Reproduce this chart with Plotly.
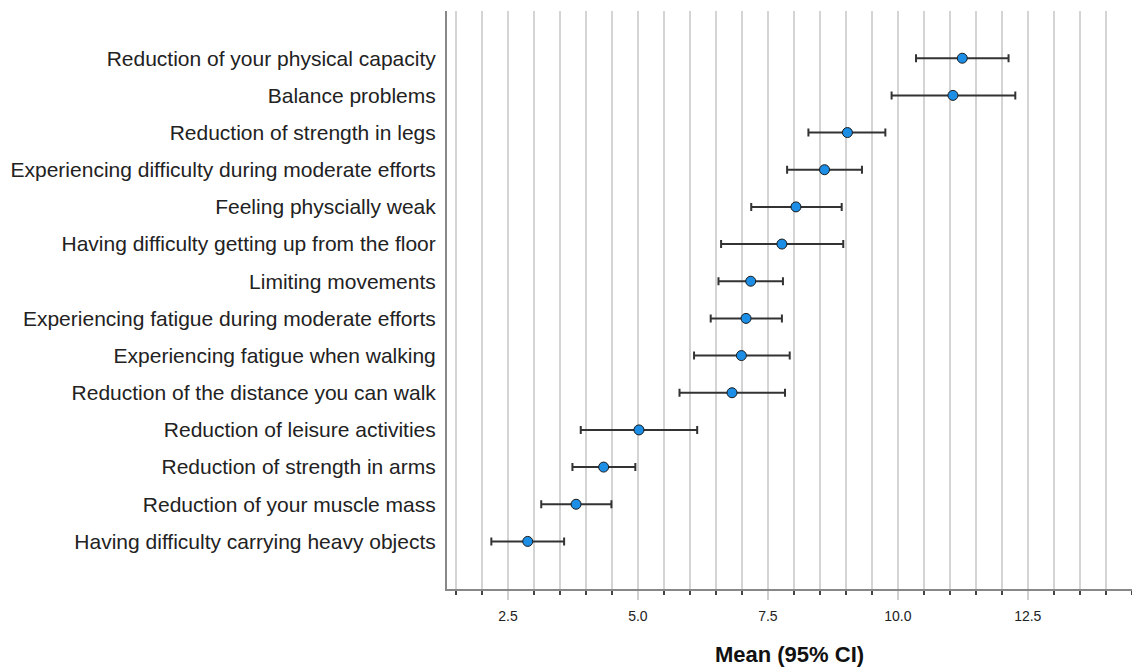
import plotly.graph_objects as go

categories = [
    "Reduction of your physical capacity",
    "Balance problems",
    "Reduction of strength in legs",
    "Experiencing difficulty during moderate efforts",
    "Feeling physcially weak",
    "Having difficulty getting up from the floor",
    "Limiting movements",
    "Experiencing fatigue during moderate efforts",
    "Experiencing fatigue when walking",
    "Reduction of the distance you can walk",
    "Reduction of leisure activities",
    "Reduction of strength in arms",
    "Reduction of your muscle mass",
    "Having difficulty carrying heavy objects",
]
means = [11.24, 11.06, 9.03, 8.59, 8.04, 7.77, 7.17, 7.08, 6.99, 6.81, 5.02, 4.34, 3.81, 2.88]
ci_low = [10.35, 9.88, 8.28, 7.87, 7.18, 6.60, 6.55, 6.40, 6.08, 5.80, 3.90, 3.74, 3.14, 2.18]
ci_high = [12.13, 12.26, 9.76, 9.31, 8.92, 8.95, 7.79, 7.77, 7.92, 7.83, 6.14, 4.95, 4.49, 3.58]
x_tick_vals = [2.5, 5.0, 7.5, 10.0, 12.5]
x_tick_text = ["2.5", "5.0", "7.5", "10.0", "12.5"]
x_title = "Mean (95% CI)"

rows = list(range(len(categories)))
err_plus = [h - m for h, m in zip(ci_high, means)]
err_minus = [m - l for m, l in zip(means, ci_low)]

fig = go.Figure()
fig.add_trace(go.Scatter(
    x=means, y=rows, mode="markers",
    marker=dict(size=10, color="#1c8ee6", line=dict(color="#1a1a1a", width=1)),
    error_x=dict(type="data", symmetric=False, array=err_plus, arrayminus=err_minus,
                 color="#333333", thickness=2, width=4),
    showlegend=False, hoverinfo="skip",
))

fig.update_layout(
    width=1132, height=667,
    margin=dict(l=447, r=0, t=11, b=78, autoexpand=False),
    paper_bgcolor="white", plot_bgcolor="white",
    font=dict(family="Liberation Sans, Arial, sans-serif", color="#222222"),
)
fig.update_xaxes(
    automargin=False,
    range=[1.327, 14.505],
    tickmode="array", tickvals=x_tick_vals, ticktext=x_tick_text,
    tickfont=dict(size=14, color="#222222"),
    ticklabelstandoff=4,
    showgrid=True, gridcolor="#d4d4d4", gridwidth=1.5,
    ticks="outside", ticklen=9, tickcolor="#d0d0d0", tickwidth=1.5,
    minor=dict(dtick=0.5, tick0=0, showgrid=True, gridcolor="#d4d4d4", gridwidth=1.5,
               ticks="outside", ticklen=4, tickcolor="#444444", tickwidth=1.5),
    showline=True, linecolor="#888888", linewidth=2,
    zeroline=False,
    title=dict(text=x_title, font=dict(size=22, color="#111111", family="Liberation Sans, Arial, sans-serif", weight="bold"), standoff=24),
)
fig.update_yaxes(
    automargin=False,
    range=[13 + 1.28, -1.27],
    tickmode="array", tickvals=rows, ticktext=categories,
    tickfont=dict(size=21, color="#222222"),
    showgrid=False, zeroline=False,
    showline=True, linecolor="#888888", linewidth=2,
    ticks="", ticklabelstandoff=5,
)

fig.write_html("out.html", config={"displayModeBar": False},
               post_script="document.body.style.margin='0';document.body.style.overflow='hidden';")
